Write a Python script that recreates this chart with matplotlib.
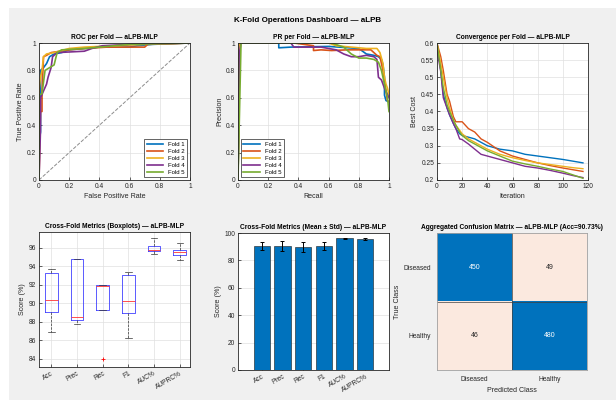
import numpy as np
import matplotlib
matplotlib.use('Agg')
import matplotlib.pyplot as plt
from matplotlib.colors import ListedColormap

plt.rcParams['font.family'] = ['Liberation Sans', 'DejaVu Sans']
plt.rcParams['font.size'] = 5

fold_colors = ['#0072BD', '#D95319', '#EDB120', '#7E2F8E', '#77AC30']
fold_names = ['Fold 1', 'Fold 2', 'Fold 3', 'Fold 4', 'Fold 5']

# ROC per fold (fpr, tpr)
roc_fpr = [
    [0, 0, 0.01, 0.01, 0.03, 0.05, 0.07, 0.10, 0.15, 0.20, 0.30, 0.40, 0.60, 0.65, 0.75, 1],
    [0, 0.01, 0.02, 0.02, 0.03, 0.05, 0.08, 0.20, 0.30, 0.45, 0.70, 0.72, 1],
    [0, 0, 0.01, 0.02, 0.03, 0.05, 0.10, 0.20, 0.30, 0.50, 0.70, 1],
    [0, 0.01, 0.01, 0.03, 0.05, 0.06, 0.08, 0.09, 0.12, 0.30, 0.35, 0.42, 0.60, 1],
    [0, 0, 0.02, 0.04, 0.07, 0.10, 0.12, 0.15, 0.30, 0.50, 0.60, 1],
]
roc_tpr = [
    [0, 0.27, 0.35, 0.80, 0.82, 0.85, 0.90, 0.92, 0.93, 0.95, 0.96, 0.97, 0.97, 0.98, 0.99, 1],
    [0, 0.50, 0.50, 0.65, 0.90, 0.91, 0.93, 0.95, 0.96, 0.97, 0.97, 0.99, 1],
    [0, 0.66, 0.75, 0.80, 0.90, 0.92, 0.93, 0.96, 0.97, 0.98, 0.99, 1],
    [0, 0.37, 0.60, 0.65, 0.70, 0.75, 0.82, 0.90, 0.93, 0.94, 0.96, 0.98, 0.99, 1],
    [0, 0.62, 0.63, 0.80, 0.82, 0.84, 0.93, 0.95, 0.96, 0.98, 0.99, 1],
]

# PR per fold (recall, precision)
pr_rec = [
    [0, 0.01, 0.27, 0.27, 0.35, 0.60, 0.80, 0.85, 0.90, 0.93, 0.95, 0.96, 0.97, 0.97, 0.98, 1],
    [0, 0.01, 0.37, 0.50, 0.50, 0.55, 0.62, 0.72, 0.80, 0.88, 0.92, 0.94, 0.96, 0.98, 0.99, 1],
    [0, 0.01, 0.60, 0.65, 0.75, 0.85, 0.92, 0.94, 0.96, 0.97, 0.98, 0.99, 1],
    [0, 0.01, 0.02, 0.35, 0.37, 0.55, 0.65, 0.70, 0.75, 0.80, 0.85, 0.90, 0.92, 0.93, 0.95, 0.97, 1],
    [0, 0.02, 0.62, 0.70, 0.75, 0.80, 0.85, 0.90, 0.93, 0.95, 0.97, 0.99, 1],
]
pr_prec = [
    [0, 1, 1, 0.965, 0.97, 0.975, 0.96, 0.92, 0.91, 0.90, 0.88, 0.84, 0.75, 0.62, 0.58, 0.57],
    [0, 1, 1, 0.98, 0.945, 0.95, 0.945, 0.95, 0.95, 0.95, 0.91, 0.90, 0.80, 0.65, 0.58, 0.57],
    [0, 1, 1, 0.98, 0.97, 0.96, 0.96, 0.93, 0.85, 0.75, 0.70, 0.67, 0.62],
    [0, 0.93, 1, 1, 0.97, 0.97, 0.95, 0.92, 0.90, 0.90, 0.91, 0.90, 0.88, 0.75, 0.73, 0.67, 0.60],
    [0, 1, 1, 0.97, 0.92, 0.89, 0.89, 0.88, 0.86, 0.80, 0.70, 0.60, 0.50],
]

# convergence (best cost per iteration)
iters = [0, 3, 5, 8, 10, 13, 15, 18, 20, 25, 30, 35, 40, 50, 60, 70, 80, 90, 100, 108, 116]
cost = [
    [0.600, 0.520, 0.450, 0.410, 0.390, 0.365, 0.350, 0.335, 0.330, 0.325, 0.320, 0.310, 0.300, 0.290, 0.285, 0.275, 0.270, 0.265, 0.260, 0.255, 0.250],
    [0.600, 0.560, 0.520, 0.450, 0.430, 0.385, 0.370, 0.370, 0.370, 0.350, 0.340, 0.320, 0.310, 0.285, 0.270, 0.260, 0.250, 0.242, 0.235, 0.230, 0.225],
    [0.600, 0.540, 0.500, 0.440, 0.410, 0.375, 0.360, 0.345, 0.335, 0.320, 0.310, 0.300, 0.290, 0.275, 0.265, 0.257, 0.250, 0.245, 0.240, 0.236, 0.233],
    [0.580, 0.515, 0.440, 0.410, 0.390, 0.365, 0.350, 0.320, 0.318, 0.305, 0.290, 0.275, 0.270, 0.260, 0.250, 0.240, 0.235, 0.228, 0.220, 0.213, 0.207],
    [0.600, 0.520, 0.470, 0.420, 0.400, 0.375, 0.360, 0.340, 0.330, 0.315, 0.305, 0.295, 0.285, 0.270, 0.255, 0.247, 0.240, 0.232, 0.225, 0.215, 0.205],
]

# per-fold metrics (%)
metric_names = ['Acc', 'Prec', 'Rec', 'F1', 'AUC%', 'AUPRC%']
fold_metrics = [
    [86.9, 89.1, 90.3, 93.3, 93.7],
    [87.7, 88.2, 88.5, 94.8, 94.8],
    [84.0, 89.3, 91.9, 92.0, 92.0],
    [86.2, 88.9, 90.2, 93.0, 93.4],
    [95.3, 95.6, 95.8, 96.2, 97.1],
    [94.7, 95.2, 95.5, 95.8, 96.5],
]

class_names = ['Diseased', 'Healthy']
conf_mat = np.array([[450, 49], [46, 480]])

TITLE_FS = 4.8
LABEL_FS = 5.1
TICK_FS = 4.8

fig = plt.figure(figsize=(6.16, 4.0), dpi=100)
fig.patch.set_facecolor('white')
fig.add_artist(plt.Rectangle((9 / 616, 0), 1, 1 - 8 / 400, transform=fig.transFigure,
                             facecolor='#f0f0f0', edgecolor='none', zorder=-10))
fig.text(0.5, 1 - 21 / 400, 'K-Fold Operations Dashboard \u2014 aLPB', ha='center', va='center',
         fontsize=5.8, fontweight='bold')


def make_ax(x0, y0, x1, y1):
    ax = fig.add_axes([x0 / 616, 1 - y1 / 400, (x1 - x0) / 616, (y1 - y0) / 400])
    ax.tick_params(direction='in', length=2, width=0.5, labelsize=TICK_FS, pad=2, colors='#262626')
    for s in ax.spines.values():
        s.set_linewidth(0.6)
        s.set_color('#262626')
    ax.grid(True, color='#e0e0e0', linewidth=0.5)
    ax.set_axisbelow(True)
    return ax


def style_text(ax, title, xlabel, ylabel):
    ax.set_title(title, fontsize=TITLE_FS, fontweight='bold', pad=3)
    ax.set_xlabel(xlabel, fontsize=LABEL_FS, labelpad=2, color='#262626')
    ax.set_ylabel(ylabel, fontsize=LABEL_FS, labelpad=2, color='#262626')


# ROC
ax = make_ax(39, 43, 190, 180)
for i in range(5):
    ax.plot(roc_fpr[i], roc_tpr[i], color=fold_colors[i], lw=1.2, label=fold_names[i])
ax.plot([0, 1], [0, 1], '--', color='#8c8c8c', lw=0.7)
ax.set_xlim(0, 1)
ax.set_ylim(0, 1)
ax.set_xticks([0, 0.2, 0.4, 0.6, 0.8, 1])
ax.set_xticklabels(['0', '0.2', '0.4', '0.6', '0.8', '1'])
ax.set_yticks([0, 0.2, 0.4, 0.6, 0.8, 1])
ax.set_yticklabels(['0', '0.2', '0.4', '0.6', '0.8', '1'])
style_text(ax, 'ROC per Fold \u2014 aLPB-MLP', 'False Positive Rate', 'True Positive Rate')
ax.legend(loc='lower right', fontsize=4.3, handlelength=2.8, labelspacing=0.3, borderpad=0.4,
          fancybox=False, edgecolor='#262626', framealpha=1).get_frame().set_linewidth(0.5)

# PR
ax = make_ax(238, 43, 389, 180)
for i in range(5):
    ax.plot(pr_rec[i], pr_prec[i], color=fold_colors[i], lw=1.2, label=fold_names[i])
ax.set_xlim(0, 1)
ax.set_ylim(0, 1)
ax.set_xticks([0, 0.2, 0.4, 0.6, 0.8, 1])
ax.set_xticklabels(['0', '0.2', '0.4', '0.6', '0.8', '1'])
ax.set_yticks([0, 0.2, 0.4, 0.6, 0.8, 1])
ax.set_yticklabels(['0', '0.2', '0.4', '0.6', '0.8', '1'])
style_text(ax, 'PR per Fold \u2014 aLPB-MLP', 'Recall', 'Precision')
ax.legend(loc='lower left', fontsize=4.3, handlelength=2.8, labelspacing=0.3, borderpad=0.4,
          fancybox=False, edgecolor='#262626', framealpha=1).get_frame().set_linewidth(0.5)

# Convergence
ax = make_ax(437, 43, 588, 180)
for i in range(5):
    ax.plot(iters, cost[i], color=fold_colors[i], lw=1.0)
ax.set_xlim(0, 120)
ax.set_ylim(0.2, 0.6)
ax.set_xticks(np.arange(0, 121, 20))
ax.set_yticks(np.arange(0.2, 0.61, 0.05))
ax.set_yticklabels(['0.2', '0.25', '0.3', '0.35', '0.4', '0.45', '0.5', '0.55', '0.6'])
style_text(ax, 'Convergence per Fold \u2014 aLPB-MLP', 'Iteration', 'Best Cost')

# Boxplots
ax = make_ax(39, 232, 190, 367)
ax.boxplot(fold_metrics, positions=np.arange(1, 7), widths=0.5,
           boxprops=dict(color='#4040ff', linewidth=0.6),
           medianprops=dict(color='#ff3333', linewidth=0.6),
           whiskerprops=dict(color='#333333', linewidth=0.5, linestyle='--'),
           capprops=dict(color='#333333', linewidth=0.5),
           flierprops=dict(marker='+', markeredgecolor='#ff0000', markersize=3, markeredgewidth=0.6))
ax.set_xlim(0.52, 6.4)
ax.set_ylim(83.1, 97.7)
ax.set_yticks(np.arange(84, 97, 2))
ax.set_xticks(np.arange(1, 7))
ax.set_xticklabels(metric_names, rotation=30, ha='right', rotation_mode='anchor')
style_text(ax, 'Cross-Fold Metrics (Boxplots) \u2014 aLPB-MLP', '', 'Score (%)')

# Mean +/- std bars
means = [np.mean(v) for v in fold_metrics]
stds = [np.std(v, ddof=1) for v in fold_metrics]
ax = make_ax(238, 233, 389, 370)
ax.bar(np.arange(1, 7), means, width=0.8, color='#0072BD', edgecolor='#1a1a1a', linewidth=0.4)
ax.errorbar(np.arange(1, 7), means, yerr=stds, fmt='none', ecolor='black', elinewidth=0.7,
            capsize=1.5, capthick=0.7)
ax.set_xlim(-0.15, 7.15)
ax.set_ylim(0, 100)
ax.set_yticks(np.arange(0, 101, 20))
ax.set_xticks(np.arange(1, 7))
ax.set_xticklabels(metric_names, rotation=30, ha='right', rotation_mode='anchor')
ax.xaxis.grid(False)
style_text(ax, 'Cross-Fold Metrics (Mean \u00b1 Std) \u2014 aLPB-MLP', '', 'Score (%)')

# Confusion matrix
acc = 100 * np.trace(conf_mat) / conf_mat.sum()
ax = fig.add_axes([437 / 616, 1 - 370 / 400, 150 / 616, 137 / 400])
cell_colors = np.array([[1, 0], [0, 1]])
ax.imshow(cell_colors, cmap=ListedColormap(['#fbe9df', '#0072BD']), aspect='auto',
          extent=(-0.5, 1.5, 1.5, -0.5))
for r in range(2):
    for c in range(2):
        ax.text(c, r, str(conf_mat[r, c]), ha='center', va='center', fontsize=5,
                color='white' if r == c else '#262626')
ax.axhline(0.5, color='#404040', lw=0.5)
ax.axvline(0.5, color='#404040', lw=0.5)
ax.set_xticks([0, 1])
ax.set_yticks([0, 1])
ax.set_xticklabels(class_names)
ax.set_yticklabels(class_names)
ax.tick_params(length=0, labelsize=TICK_FS, pad=4, colors='#262626')
for s in ax.spines.values():
    s.set_linewidth(0.6)
    s.set_color('#a0a0a0')
ax.set_title('Aggregated Confusion Matrix \u2014 aLPB-MLP (Acc=%.2f%%)' % acc, fontsize=TITLE_FS,
             fontweight='bold', pad=3)
ax.set_xlabel('Predicted Class', fontsize=LABEL_FS, labelpad=3, color='#262626')
ax.set_ylabel('True Class', fontsize=LABEL_FS, labelpad=2, color='#262626')

fig.savefig('out.png', dpi=100, facecolor=fig.get_facecolor())
